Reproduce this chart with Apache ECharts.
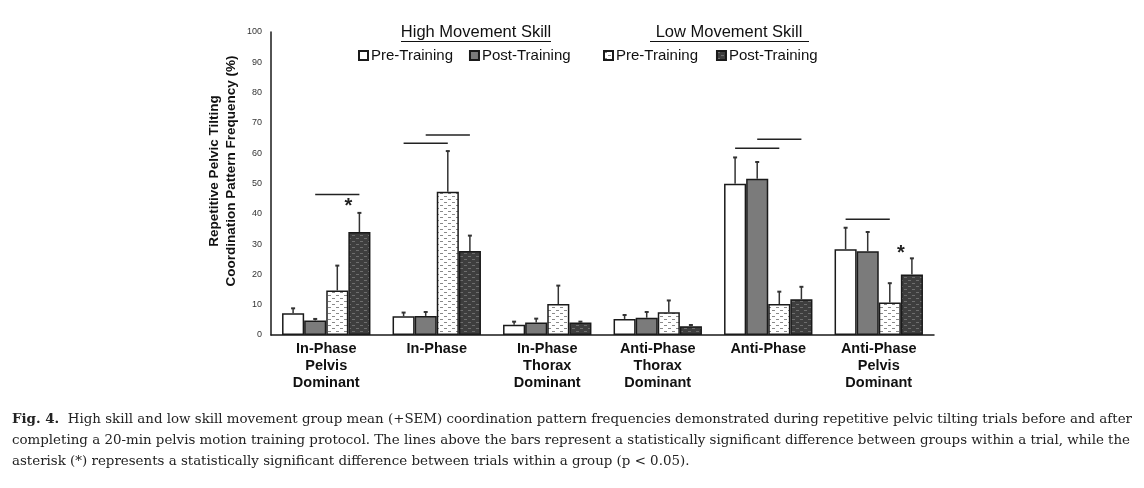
<!DOCTYPE html>
<html><head><meta charset="utf-8">
<script src="https://cdn.jsdelivr.net/npm/echarts@6/dist/echarts.min.js"></script>
<style>html,body{margin:0;padding:0;background:#fff}#c{width:1144px;height:488px}</style>
</head><body><div id="c"></div>
<script>
const categories = ['In-Phase\nPelvis\nDominant','In-Phase','In-Phase\nThorax\nDominant','Anti-Phase\nThorax\nDominant','Anti-Phase','Anti-Phase\nPelvis\nDominant'];
const yTicks = [0,10,20,30,40,50,60,70,80,90,100];
const highPre = [7.2, 6.2, 3.4, 5.3, 49.9, 28.3];
const highPreSem = [1.6, 1.2, 1.0, 1.3, 8.7, 7.1];
const highPost = [4.8, 6.3, 4.1, 5.7, 51.6, 27.6];
const highPostSem = [0.5, 1.3, 1.3, 1.9, 5.5, 6.4];
const lowPre = [14.7, 47.3, 10.2, 7.5, 10.2, 10.7];
const lowPreSem = [8.2, 13.4, 6.1, 3.9, 4.1, 6.4];
const lowPost = [34.0, 27.7, 4.1, 2.9, 11.8, 20.0];
const lowPostSem = [6.3, 5.1, 0.3, 0.4, 4.1, 5.3];
// significance lines: [category, fromBar, toBar, yValue]
const sigLines = [[0,1,3,46.4],[1,0,2,63.3],[1,1,3,66.0],[4,0,2,61.6],[4,1,3,64.6],[5,0,2,38.2]];
// asterisks: [category, barPosition, yValue]
const asterisks = [[0,2.5,42.3],[5,2.5,27.0]];
const seriesNames = ['High Pre-Training','High Post-Training','Low Pre-Training','Low Post-Training'];
const yTitle = 'Repetitive Pelvic Tilting\nCoordination Pattern Frequency (%)';
const captionLines = [
 ['Fig. 4.', '  High skill and low skill movement group mean (+SEM) coordination pattern frequencies demonstrated during repetitive pelvic tilting trials before and after'],
 ['', 'completing a 20-min pelvis motion training protocol. The lines above the bars represent a statistically significant difference between groups within a trial, while the'],
 ['', 'asterisk (*) represents a statistically significant difference between trials within a group (p < 0.05).']
];

function makePattern(bg, dash){
  const c = document.createElement('canvas'); c.width = 8; c.height = 6;
  const g = c.getContext('2d');
  g.fillStyle = bg; g.fillRect(0,0,8,6);
  g.fillStyle = dash;
  g.fillRect(0,1,3,1); g.fillRect(4,4,3,1);
  return {image: c, repeat: 'repeat'};
}
const patLowPre = makePattern('#ffffff', '#8a8a8a');
const patLowPost = makePattern('#3e3e3e', '#6e6e6e');
const fills = ['#ffffff', '#7b7b7b', patLowPre, patLowPost];
const vals = [highPre, highPost, lowPre, lowPost];
const sems = [highPreSem, highPostSem, lowPreSem, lowPostSem];
const GAP = 0.2;

const barSeries = seriesNames.map((n,i)=>({
  name:n, type:'bar', data: vals[i], barGap:'0%', barCategoryGap:'20%',
  itemStyle:{color: fills[i], borderColor:'#1a1a1a', borderWidth:1.5}, z:2
}));

const errData = [];
sems.forEach((s,b)=> s.forEach((e,c)=> errData.push([c, vals[b][c], e, b])));

function barX(api, cat, pos){
  const cw = api.size([1,0])[0];
  const bw = cw*(1-GAP)/4;
  return api.coord([cat,0])[0] + (pos-1.5)*bw;
}
const legendText = {fontSize:15, color:'#111', fontFamily:'Liberation Sans, Arial, sans-serif', padding:[0,0,0,-2]};
const serif = 'DejaVu Serif, serif';
const sans = 'Liberation Sans, Arial, sans-serif';

const option = {
  animation:false,
  textStyle:{fontFamily:sans},
  grid:{left:271, right:210, top:32, bottom:153, containLabel:false},
  legend:[
    {data:seriesNames.slice(0,2), left:353, top:43, itemWidth:9, itemHeight:9, itemGap:16,
     formatter:n=>n.replace(/^(High|Low) /,''), textStyle:legendText, icon:'rect'},
    {data:seriesNames.slice(2), left:598, top:43, itemWidth:9, itemHeight:9, itemGap:18,
     formatter:n=>n.replace(/^(High|Low) /,''), textStyle:legendText, icon:'rect'}
  ],
  xAxis:{type:'category', data:categories,
    axisLine:{lineStyle:{color:'#1a1a1a', width:1.5}}, axisTick:{show:false},
    axisLabel:{interval:0, fontWeight:'bold', fontSize:14.5, lineHeight:17, color:'#111', margin:5, verticalAlign:'top'}},
  yAxis:{type:'value', min:0, max:100, interval:10,
    axisLine:{show:true, lineStyle:{color:'#1a1a1a', width:1.5}}, axisTick:{show:false}, splitLine:{show:false},
    axisLabel:{fontSize:9, color:'#333', margin:9, formatter:v=> yTicks.includes(v)? String(v):''}},
  series:[...barSeries,
    {type:'custom', name:'err', data:errData, z:3, silent:true,
     renderItem:(p,api)=>{
       const c=api.value(0), v=api.value(1), e=api.value(2), b=api.value(3);
       const x=barX(api,c,b); const y0=api.coord([c,v])[1], y1=api.coord([c,v+e])[1];
       return {type:'group', children:[
         {type:'line', shape:{x1:x,y1:y0,x2:x,y2:y1}, style:{stroke:'#333',lineWidth:1.5}},
         {type:'line', shape:{x1:x-2,y1:y1,x2:x+2,y2:y1}, style:{stroke:'#333',lineWidth:2}}]};
     }},
    {type:'custom', name:'sig', data:sigLines, z:3, silent:true,
     renderItem:(p,api)=>{
       const c=api.value(0), a=api.value(1), b=api.value(2), y=api.coord([c,api.value(3)])[1];
       return {type:'line', shape:{x1:barX(api,c,a),y1:y,x2:barX(api,c,b),y2:y}, style:{stroke:'#222',lineWidth:1.5}};
     }},
    {type:'custom', name:'ast', data:asterisks, z:3, silent:true,
     renderItem:(p,api)=>{
       const c=api.value(0), b=api.value(1), y=api.coord([c,api.value(2)])[1];
       return {type:'text', x:barX(api,c,b), y:y, style:{text:'*', fontSize:20, fontWeight:'bold', fill:'#222', align:'center', verticalAlign:'middle', fontFamily:sans}};
     }}
  ],
  graphic:[
    {type:'text', x:223, y:171, rotation:Math.PI/2, style:{text:yTitle, fontSize:13.5, fontWeight:'bold', lineHeight:17, fill:'#111', align:'center', verticalAlign:'middle', fontFamily:sans}},
    {type:'text', x:476, y:32, style:{text:'High Movement Skill', fontSize:16.5, fill:'#111', align:'center', verticalAlign:'middle', fontFamily:sans}},
    {type:'line', shape:{x1:401, y1:41.5, x2:551, y2:41.5}, style:{stroke:'#111', lineWidth:1}},
    {type:'text', x:729, y:32, style:{text:'Low Movement Skill', fontSize:16.5, fill:'#111', align:'center', verticalAlign:'middle', fontFamily:sans}},
    {type:'line', shape:{x1:650, y1:41.5, x2:809, y2:41.5}, style:{stroke:'#111', lineWidth:1}},
    ...captionLines.map((l,i)=>({type:'text', x:12, y:420+i*21,
      style:{text:(l[0]?'{b|'+l[0]+'}':'')+l[1], rich:{b:{fontWeight:'bold', fontSize:13.4, fontFamily:serif, fill:'#222'}},
        fontSize:13.4, fill:'#222', fontFamily:serif, verticalAlign:'middle'}}))
  ]
};
const chart = echarts.init(document.getElementById('c'), null, {renderer:'canvas'});
chart.setOption(option);
</script></body></html>
